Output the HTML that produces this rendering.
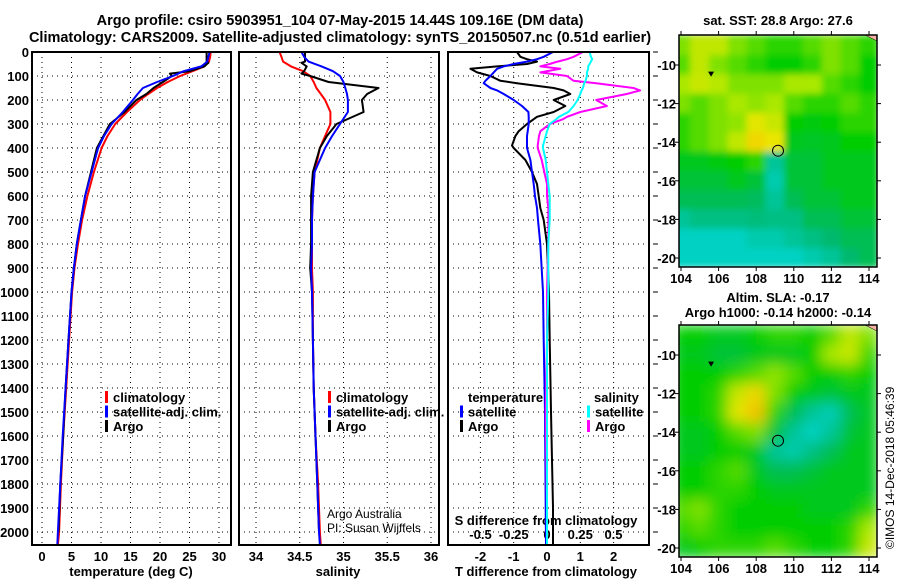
<!DOCTYPE html>
<html><head><meta charset="utf-8"><style>
html,body{margin:0;padding:0;background:#fff;}
svg{display:block;font-family:"Liberation Sans",sans-serif;}
.b{font-weight:bold;font-size:13px;}
.t{font-weight:bold;font-size:14.5px;}
</style></head><body>
<svg id="fig" width="900" height="580" viewBox="0 0 900 580">
<defs>
<filter id="blur2" x="0" y="0" width="1" height="1"><feGaussianBlur stdDeviation="7" edgeMode="duplicate"/></filter>
<filter id="blur1" x="0" y="0" width="1" height="1"><feGaussianBlur stdDeviation="3.5" edgeMode="duplicate"/></filter>
<clipPath id="clipM1"><rect x="679" y="35" width="198" height="232"/></clipPath>
<clipPath id="clipM2"><rect x="679" y="325" width="198" height="232"/></clipPath>
</defs>
<text class="t" x="340" y="25" text-anchor="middle">Argo profile: csiro 5903951_104 07-May-2015 14.44S 109.16E (DM data)</text>
<text class="t" x="340" y="42" text-anchor="middle">Climatology: CARS2009. Satellite-adjusted climatology: synTS_20150507.nc (0.51d earlier)</text>
<text class="b" x="778" y="25" text-anchor="middle">sat. SST: 28.8 Argo: 27.6</text>
<text class="b" x="778" y="302" text-anchor="middle">Altim. SLA: -0.17</text>
<text class="b" x="778" y="317" text-anchor="middle">Argo h1000: -0.14 h2000: -0.14</text>
<text x="894" y="549" font-size="12" transform="rotate(-90 894 549)">©IMOS 14-Dec-2018 05:46:39</text>
<g id="layer"></g>
</svg>
<script>
// ---------- data ----------
const depthT = [0,20,40,60,80,100,125,150,175,200,250,300,350,400,500,600,700,800,900,1000,1200,1400,1600,1800,2000,2055];
const tempClim = [28.6,28.5,28.3,27.5,25.5,23.4,21.3,19.5,18.0,16.6,14.4,12.4,11.1,10.1,8.8,7.7,6.8,6.1,5.5,5.1,4.6,4.1,3.6,3.2,2.9,2.7];
const tempSat  = [28.4,28.2,28.0,27.0,24.0,22.2,19.5,17.1,16.2,15.4,13.7,11.8,10.5,9.5,8.4,7.3,6.6,5.9,5.4,5.0,4.5,4.0,3.5,3.1,2.7,2.6];
const depthA = [0,20,40,45,60,80,90,100,125,150,175,200,250,300,350,400,500,600,700,800,900,1000,1200,1400,1600,1800,2000];
const tempArgo = [27.9,27.9,27.9,28.2,27.5,25.0,21.7,22.0,20.5,18.9,17.7,16.0,14.0,11.5,10.4,9.3,8.3,7.3,6.6,5.9,5.4,5.0,4.5,4.0,3.6,3.1,2.8];
const salClim = [34.27,34.29,34.31,34.40,34.54,34.62,34.66,34.69,34.74,34.79,34.85,34.85,34.79,34.73,34.67,34.65,34.64,34.64,34.64,34.65,34.65,34.66,34.68,34.71,34.73,34.74];
const salSat  = [34.52,34.55,34.60,34.75,34.88,34.96,35.00,35.02,35.04,35.05,35.05,34.96,34.87,34.79,34.67,34.65,34.64,34.64,34.63,34.64,34.65,34.66,34.68,34.70,34.72,34.73];
const salArgo = [34.56,34.56,34.56,34.52,34.58,34.55,34.52,34.62,34.83,35.40,35.27,35.21,35.23,34.92,34.81,34.73,34.65,34.63,34.63,34.63,34.62,34.64,34.65,34.66,34.68,34.70,34.72];
const depthD = [0,20,30,40,50,60,70,85,100,120,130,150,160,175,200,225,250,270,280,300,330,350,390,400,450,500,550,600,650,700,800,1000,1200,1500,1900,2050];
const dTsat  = [0.18,-0.1,-0.3,-0.6,-1.0,-1.3,-1.5,-1.6,-1.7,-1.85,-1.9,-1.7,-1.5,-1.3,-1.0,-0.75,-0.56,-0.55,-0.55,-0.55,-0.58,-0.6,-0.6,-0.6,-0.5,-0.45,-0.4,-0.36,-0.3,-0.27,-0.2,-0.12,-0.1,-0.06,-0.04,-0.03];
const dTargo = [-0.9,-0.8,-0.6,-0.3,-0.6,-1.5,-2.3,-2.1,-1.7,-1.4,-0.9,0.2,0.5,0.7,0.2,0.55,0.2,-0.3,-0.4,-0.6,-0.85,-0.95,-1.05,-1.0,-0.65,-0.45,-0.3,-0.25,-0.2,-0.1,0.0,0.06,0.08,0.12,0.18,0.18];
const dSsat  = [0.32,0.33,0.34,0.33,0.32,0.31,0.31,0.30,0.30,0.29,0.28,0.27,0.26,0.25,0.23,0.2,0.16,0.09,0.07,0.02,0.0,-0.01,-0.03,-0.03,-0.01,0.0,0.01,0.02,0.02,0.02,0.01,0.01,0.0,0.0,0.0,0.0];
const dSargo = [0.27,0.2,0.15,0.08,0.02,-0.05,0.1,-0.05,0.15,0.2,0.37,0.65,0.7,0.6,0.37,0.45,0.25,0.15,0.12,0.02,-0.05,-0.06,-0.07,-0.07,-0.04,-0.02,0.0,0.0,0.01,0.01,0.01,0.0,0.0,-0.01,0.0,0.0];
const depthTicks = [0,100,200,300,400,500,600,700,800,900,1000,1100,1200,1300,1400,1500,1600,1700,1800,1900,2000];
const tempTicks = [0,5,10,15,20,25,30];
const salTicks = [34,34.5,35,35.5,36];
const salTickLabels = ["34","34.5","35","35.5","36"];
const dTTicks = [-2,-1,0,1,2];
const dSTicks = [-0.5,-0.25,0,0.25,0.5];
const dSTickLabels = ["-0.5","-0.25","0","0.25","0.5"];
const mapLons = [104,105,106,107,108,109,110,111,112,113,114];
const mapLats = [-9,-10,-11,-12,-13,-14,-15,-16,-17,-18,-19,-20];
const lonTicks = [104,106,108,110,112,114];
const latTicks = [-10,-12,-14,-16,-18,-20];
const sstGrid = [
[.6,.7,.7,.6,.55,.5,.5,.55,.6,.55,.5],
[.55,.7,.6,.55,.5,.45,.45,.5,.6,.55,.45],
[.65,.72,.68,.6,.6,.6,.65,.65,.55,.5,.45],
[.6,.55,.6,.65,.62,.65,.55,.5,.5,.55,.5],
[.5,.55,.6,.62,.78,.72,.45,.42,.45,.5,.5],
[.5,.55,.6,.7,.85,.8,.4,.38,.4,.45,.45],
[.4,.4,.42,.45,.5,.15,.35,.35,.4,.4,.4],
[.35,.35,.35,.4,.35,.1,.35,.35,.4,.4,.4],
[.3,.3,.3,.3,.28,.15,.3,.35,.35,.4,.4],
[.15,.2,.2,.2,.22,.2,.2,.3,.3,.35,.35],
[.05,.05,.05,.05,.1,.1,.15,.2,.25,.3,.3],
[.05,.05,.05,.05,.05,.05,.05,.1,.15,.25,.3]];
const slaGrid = [
[.45,.45,.4,.4,.45,.5,.5,.45,.55,.7,.6],
[.4,.4,.35,.35,.4,.4,.4,.45,.65,.72,.5],
[.45,.45,.45,.5,.55,.62,.55,.45,.45,.5,.45],
[.45,.45,.5,.72,.85,.6,.45,.4,.35,.4,.4],
[.45,.45,.5,.78,.92,.5,.3,.15,.08,.3,.4],
[.4,.4,.45,.55,.6,.35,.15,.05,.15,.35,.4],
[.4,.4,.45,.45,.4,.15,.1,.2,.3,.4,.4],
[.45,.45,.5,.55,.4,.3,.3,.35,.4,.4,.4],
[.45,.45,.5,.5,.45,.4,.4,.4,.4,.4,.4],
[.55,.6,.5,.45,.45,.45,.45,.4,.4,.4,.5],
[.5,.55,.5,.45,.45,.45,.45,.45,.45,.5,.65],
[.4,.45,.5,.5,.5,.55,.5,.45,.45,.5,.72]];
const argoLon = [109.16], argoLat = [-14.44];

// ---------- helpers ----------
const NS = "http://www.w3.org/2000/svg";
const layer = document.getElementById("layer");
function mk(tag, attrs, parent){
  const e = document.createElementNS(NS, tag);
  for (const k in attrs) e.setAttribute(k, attrs[k]);
  (parent||layer).appendChild(e);
  return e;
}
const TOP = 52, BOT = 545;
const yD = d => TOP + d*0.24;
const xT = t => 42 + t*5.9;
const xS = s => 256 + (s-34)*87.5;
const xDT = v => 547 + v*33.3;
const xDS = v => 547 + v*133;
const panels = [
  {name:"temperature", l:32, r:231},
  {name:"salinity", l:239, r:439},
  {name:"difference", l:448, r:649}
];

panels.forEach((p,i)=>{
  const g = mk("g",{});
  
  
  p.g = g;
  depthTicks.forEach(d=>{
    const ln = mk("line",{x1:p.l,x2:p.r,y1:yD(d),y2:yD(d),stroke:"#000","stroke-width":1,"stroke-dasharray":"1 4"},g);
    
    
  });
});
function vgrid(p, xs){
  xs.forEach(x=>{
    const ln = mk("line",{x1:x,x2:x,y1:TOP,y2:BOT,stroke:"#000","stroke-width":1,"stroke-dasharray":"1 4"},p.g);
    
    
  });
}
vgrid(panels[0], tempTicks.map(xT));
vgrid(panels[1], salTicks.map(xS));
vgrid(panels[2], dTTicks.map(xDT));

depthTicks.forEach(d=>{
  const t = mk("text",{x:29,y:yD(d)+5,"text-anchor":"end",class:"b"});
  t.textContent = d;
  
  
});
depthTicks.forEach(d=>{
  const ln = mk("line",{x1:653,x2:658,y1:yD(d),y2:yD(d),stroke:"#000","stroke-width":1});
  
  
});

function xlabels(vals, labels, fx, y, name){
  vals.forEach((v,i)=>{
    const t = mk("text",{x:fx(v),y:y,"text-anchor":"middle",class:"b"});
    t.textContent = labels ? labels[i] : v;
    
    
  });
}
xlabels(tempTicks, null, xT, 561, 'temperature-tick-label');
xlabels(salTicks, salTickLabels, xS, 561, 'salinity-tick-label');
xlabels(dTTicks, null, xDT, 561, 'dt-tick-label');
xlabels(dSTicks, dSTickLabels, xDS, 539, 'ds-tick-label');

function txt(s, x, y, name, cls, anchor, extra){
  const t = mk("text", Object.assign({x:x,y:y,"text-anchor":anchor||"start"}, cls?{class:cls}:{}, extra||{}));
  t.textContent = s;
  
  
  return t;
}
txt("temperature (deg C)", 131, 576, 'x-axis-title-temperature', 'b', 'middle');
txt("salinity", 338, 576, 'x-axis-title-salinity', 'b', 'middle');
txt("T difference from climatology", 546, 576, 'x-axis-title-t-difference', 'b', 'middle');
txt("S difference from climatology", 546, 525, 'x-axis-title-s-difference', 'b', 'middle');
txt("Argo Australia", 327, 518, 'credit-argo-australia', null, 'start', {"font-size":12});
txt("PI: Susan Wijffels", 327, 532, 'credit-pi', null, 'start', {"font-size":12});

function series(depths, vals, fx, color, name, w){
  const pts = depths.map((d,i)=>fx(vals[i]).toFixed(1)+","+yD(d).toFixed(1)).join(" ");
  const pl = mk("polyline",{points:pts,fill:"none",stroke:color,"stroke-width":w||2,"stroke-linejoin":"round"});
  
  
}
series(depthT, tempClim, xT, "#f00", 'temperature-climatology-line');
series(depthA, tempArgo, xT, "#000", 'temperature-argo-line');
series(depthT, tempSat, xT, "#00f", 'temperature-satellite-line');
series(depthT, salClim, xS, "#f00", 'salinity-climatology-line');
series(depthA, salArgo, xS, "#000", 'salinity-argo-line');
series(depthT, salSat, xS, "#00f", 'salinity-satellite-line');
series(depthD, dTargo, xDT, "#000", 't-diff-argo-line');
series(depthD, dTsat, xDT, "#00f", 't-diff-satellite-line');
series(depthD, dSargo, xDS, "#f0f", 's-diff-argo-line');
series(depthD, dSsat, xDS, "#0ff", 's-diff-satellite-line');

panels.forEach(p=>{
  const r = mk("rect",{x:p.l,y:TOP,width:p.r-p.l,height:BOT-TOP,fill:"none",stroke:"#000","stroke-width":2});
  
  
});

function legItem(x, y, color, label, name){
  const r = mk("rect",{x:x,y:y-11,width:3,height:12,fill:color});
  
  
  if (label) txt(label, x+8, y, name, 'b');
}
[[105,"#f00","climatology"],[105,"#00f","satellite-adj. clim."],[105,"#000","Argo"]].forEach((it,i)=>legItem(it[0],402+i*14.5,it[1],it[2],'legend-temp-'+i));
[[328,"#f00","climatology"],[328,"#00f","satellite-adj. clim."],[328,"#000","Argo"]].forEach((it,i)=>legItem(it[0],402+i*14.5,it[1],it[2],'legend-sal-'+i));
txt("temperature", 468, 402, 'legend-temperature-heading', 'b');
legItem(460, 416.5, "#00f", "satellite", 'legend-dt-satellite');
legItem(460, 431, "#000", "Argo", 'legend-dt-argo');
txt("salinity", 594, 402, 'legend-salinity-heading', 'b');
legItem(587, 416.5, "#0ff", "satellite", 'legend-ds-satellite');
legItem(587, 431, "#f0f", "Argo", 'legend-ds-argo');

// ---------- maps ----------
const stops = [[0,[0,215,215]],[0.25,[0,185,110]],[0.45,[0,205,0]],[0.65,[170,232,0]],[0.8,[235,230,0]],[1,[250,170,0]]];
function cmap(v){
  for (let i=1;i<stops.length;i++){
    if (v<=stops[i][0]){
      const a=stops[i-1], b=stops[i], f=(v-a[0])/(b[0]-a[0]);
      return "rgb("+a[1].map((c,k)=>Math.round(c+(b[1][k]-c)*f)).join(",")+")";
    }
  }
  return "rgb(250,170,0)";
}
function drawMap(top, grid, clipId, filt, name){
  const L=679, R=877, B=top+232;
  const xL = lon => 681 + (lon-104)*18.8;
  const yL = lat => (top+30) + (-10-lat)*19.3;
  const g = mk("g",{"clip-path":"url(#"+clipId+")"});
  
  
  const inner = mk("g", {filter:"url(#"+filt+")"}, g);
  mk("rect",{x:L,y:top,width:R-L,height:B-top,fill:cmap(0.45)},inner);
  mapLats.forEach((lat,i)=>{
    mapLons.forEach((lon,j)=>{
      const c = mk("rect",{x:xL(lon-0.5)-0.3,y:yL(lat+0.5)-0.3,width:18.8+0.6,height:19.3+0.6,fill:cmap(grid[i][j])},inner);
      
      
    });
  });
  const land = mk("polygon",{points:(R-12)+","+top+" "+R+","+top+" "+R+","+(top+6)+" "+(R-6)+","+(top+3),fill:"#f4b0a0",stroke:"#000","stroke-width":0.5},g);
  
  
  const tri = mk("polygon",{points:(xL(105.6)-3)+","+(yL(-10.45)-2)+" "+(xL(105.6)+3)+","+(yL(-10.45)-2)+" "+xL(105.6)+","+(yL(-10.45)+3),fill:"#000"},g);
  
  
  const circ = mk("circle",{cx:xL(argoLon[0]),cy:yL(argoLat[0]),r:5.5,fill:"none",stroke:"#000","stroke-width":1});
  
  
  const fr = mk("rect",{x:L,y:top,width:R-L,height:B-top,fill:"none",stroke:"#000","stroke-width":1.5});
  
  
  latTicks.forEach(lat=>{
    const tk = mk("line",{x1:L-4,x2:L,y1:yL(lat),y2:yL(lat),stroke:"#000"});
    
    
    const tk2 = mk("line",{x1:R,x2:R+4,y1:yL(lat),y2:yL(lat),stroke:"#000"});
    
    
    txt(String(lat), 676, yL(lat)+5, 'lat-tick-label', 'b', 'end');
  });
  lonTicks.forEach(lon=>{
    const tk = mk("line",{x1:xL(lon),x2:xL(lon),y1:top-4,y2:top,stroke:"#000"});
    
    
    const tk2 = mk("line",{x1:xL(lon),x2:xL(lon),y1:B,y2:B+4,stroke:"#000"});
    
    
    txt(String(lon), xL(lon), B+16, 'lon-tick-label', 'b', 'middle');
  });
}
drawMap(35, sstGrid, "clipM1", "blur1", 'sst-map');
drawMap(325, slaGrid, "clipM2", "blur2", 'sla-map');
</script>
</body></html>
